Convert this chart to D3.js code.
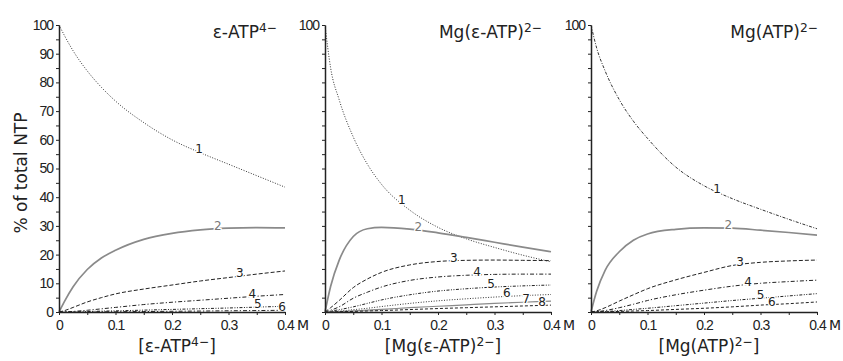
<!DOCTYPE html>
<html>
<head>
<meta charset="utf-8">
<script src="https://cdn.jsdelivr.net/npm/d3@7"></script>
<style>
  body { margin: 0; background: #fff; }
  svg { display: block; font-family: "DejaVu Sans", sans-serif; }
  .tick text { font-size: 14px; letter-spacing: -1px; fill: #222; }
  .tick line { stroke: #222; }
  .domain { stroke: #222; stroke-width: 1.5px; }
</style>
</head>
<body>
<svg id="chart" width="843" height="361"></svg>
<script>
'use strict';

// concentration grid (M) shared by every curve
var conc = [0, 0.01, 0.025, 0.05, 0.075, 0.1, 0.15, 0.2, 0.25, 0.3, 0.35, 0.4];

// % of total NTP, e-ATP4- panel
var eps1 = [100, 96.2, 91, 84, 78.3, 73.5, 66, 60, 55.5, 51.5, 47.5, 43.5];
var eps2 = [0, 3.8, 8.8, 14.8, 18.8, 21.5, 25.3, 27.4, 28.6, 29.2, 29.4, 29.3];
var eps3 = [0, 0.5, 1.6, 3.5, 5, 6.3, 8, 9.4, 10.8, 12, 13.2, 14.3];
var eps4 = [0, 0, 0.2, 0.6, 1.1, 1.6, 2.6, 3.4, 4.1, 4.8, 5.5, 6.1];
var eps5 = [0, 0, 0.05, 0.15, 0.3, 0.4, 0.65, 0.9, 1.15, 1.4, 1.7, 2];
var eps6 = [0, 0, 0, 0.03, 0.06, 0.1, 0.17, 0.25, 0.33, 0.42, 0.5, 0.6];

// Mg(e-ATP)2- panel
var mge1 = [100, 85, 74, 61, 51.5, 44.5, 35.5, 29.5, 25.5, 22.5, 19.8, 17.5];
var mge2 = [0, 9, 18, 26.3, 29, 29.5, 28.9, 27.6, 26, 24.3, 22.6, 21];
var mge3 = [0, 1.5, 4, 8.5, 11.5, 13.8, 16.4, 17.6, 18, 18.1, 18, 17.9];
var mge4 = [0, 0.6, 1.8, 4.8, 6.9, 8.7, 11, 12.2, 12.8, 13.1, 13.2, 13.2];
var mge5 = [0, 0.3, 0.8, 1.8, 3, 4.2, 6, 7.3, 8.1, 8.7, 9.1, 9.4];
var mge6 = [0, 0.1, 0.3, 0.8, 1.3, 1.9, 3, 3.9, 4.6, 5.2, 5.7, 6.1];
var mge7 = [0, 0.05, 0.15, 0.4, 0.65, 0.9, 1.5, 2, 2.5, 3, 3.4, 3.8];
var mge8 = [0, 0.03, 0.1, 0.2, 0.35, 0.5, 0.85, 1.2, 1.5, 1.8, 2.1, 2.4];

// Mg(ATP)2- panel
var mga1 = [100, 92, 84, 74, 66.5, 60.5, 50.5, 44, 39.5, 35.8, 32.3, 29];
var mga2 = [0, 7.2, 14.5, 21, 25, 27.2, 28.8, 29.3, 29.2, 28.5, 27.7, 26.8];
var mga3 = [0, 0.4, 1.5, 3.8, 6, 8.1, 11.2, 13.8, 16.2, 17.3, 17.8, 18.1];
var mga4 = [0, 0.1, 0.5, 1.5, 2.7, 4, 6, 7.6, 9, 10, 10.6, 11.1];
var mga5 = [0, 0.05, 0.15, 0.5, 0.9, 1.3, 2.2, 3.1, 4, 4.8, 5.6, 6.4];
var mga6 = [0, 0, 0.05, 0.2, 0.35, 0.5, 0.9, 1.3, 1.8, 2.4, 2.9, 3.5];

// axis ticks
var yTicks = d3.range(0, 101, 5);
var xTicks = [0, 0.05, 0.1, 0.15, 0.2, 0.25, 0.3, 0.35, 0.4];

// line styles, keyed by name
var styles = {
  dot:     { stroke: '#333', width: 1, dash: '1,1.6' },
  dashdot1:{ stroke: '#333', width: 1, dash: '3,1.5,1,1.5' },
  gray:    { stroke: '#8a8a8a', width: 1.7, dash: null },
  grayThin:{ stroke: '#8a8a8a', width: 1.2, dash: null },
  dash:    { stroke: '#222', width: 1, dash: '4,2' },
  dash2:   { stroke: '#222', width: 1, dash: '3,2' },
  dashdot: { stroke: '#222', width: 1, dash: '4,2,1.2,2' },
  dashdd:  { stroke: '#222', width: 1, dash: '3,1.5,1,1.5,1,1.5' }
};

var panels = [
  {
    head: ['ε-ATP', '4−'], headDx: -8,
    foot: ['[ε-ATP', '4−', ']'],
    series: [eps1, eps2, eps3, eps4, eps5, eps6],
    lstyle: ['dot', 'gray', 'dash', 'dashdot', 'dashdd', 'dashdot'],
    labelAt: [0.248, 0.281, 0.32, 0.342, 0.352, 0.395],
    yLabels: 'all'
  },
  {
    head: ['Mg(ε-ATP)', '2−'], headDx: -9,
    foot: ['[Mg(ε-ATP)', '2−', ']'],
    series: [mge1, mge2, mge3, mge4, mge5, mge6, mge7, mge8],
    lstyle: ['dot', 'gray', 'dash', 'dashdot', 'dashdd', 'dot', 'grayThin', 'dash2'],
    labelAt: [0.136, 0.165, 0.228, 0.269, 0.294, 0.322, 0.356, 0.384],
    yLabels: 'top'
  },
  {
    head: ['Mg(ATP)', '2−'], headDx: 1,
    foot: ['[Mg(ATP)', '2−', ']'],
    series: [mga1, mga2, mga3, mga4, mga5, mga6],
    lstyle: ['dashdot1', 'gray', 'dash', 'dashdot', 'dashdd', 'dash2'],
    labelAt: [0.223, 0.243, 0.264, 0.278, 0.3, 0.32],
    yLabels: 'top'
  }
];

var svg = d3.select('#chart');
var y = d3.scaleLinear().domain([0, 100]).range([312, 25]);

function superText(sel, parts) {
  sel.append('tspan').text(parts[0]);
  sel.append('tspan').attr('dy', '-0.45em').attr('font-size', '0.72em').text(parts[1]);
  if (parts[2]) sel.append('tspan').attr('dy', '0.32em').text(parts[2]);
}

panels.forEach(function (p, i) {
  var left = 59 + i * 266;
  var x = d3.scaleLinear().domain([0, 0.4]).range([left, left + 226]);
  var g = svg.append('g');

  var line = d3.line()
    .x(function (d, j) { return x(conc[j]); })
    .y(function (d) { return y(d); })
    .curve(d3.curveMonotoneX);

  // curves
  p.series.forEach(function (s, k) {
    var st = styles[p.lstyle[k]];
    g.append('path')
      .attr('d', line(s))
      .attr('fill', 'none')
      .attr('stroke', st.stroke)
      .attr('stroke-width', st.width)
      .attr('stroke-dasharray', st.dash);
  });

  // curve numbers
  p.series.forEach(function (s, k) {
    var xv = p.labelAt[k];
    var yv = d3.scaleLinear().domain(conc).range(s)(xv);
    g.append('text')
      .attr('x', x(xv))
      .attr('y', y(yv) + 1)
      .attr('text-anchor', 'middle')
      .attr('font-size', 12)
      .attr('fill', k === 1 ? '#777' : '#222')
      .attr('stroke', '#fff')
      .attr('stroke-width', 2.5)
      .attr('paint-order', 'stroke')
      .text(k + 1);
  });

  // y axis
  g.append('g')
    .attr('transform', 'translate(' + left + ',0)')
    .call(d3.axisLeft(y).tickValues(yTicks).tickSize(3).tickSizeOuter(0)
      .tickFormat(function (d) {
        if (p.yLabels === 'all') return d % 10 === 0 ? d : '';
        return d === 100 ? d : '';
      }));

  // x axis
  g.append('g')
    .attr('transform', 'translate(0,' + y(0) + ')')
    .call(d3.axisBottom(x).tickValues(xTicks).tickSize(3).tickSizeOuter(0).tickPadding(5)
      .tickFormat(function (d) {
        var t = Math.round(d * 100);
        if (t % 10 !== 0) return '';
        return t === 0 ? '0' : d3.format('.1f')(d);
      }));

  g.append('text')
    .attr('x', x(0.4) + 18).attr('y', 330)
    .attr('text-anchor', 'middle').attr('font-size', 14).attr('fill', '#222')
    .text('M');

  // panel header
  g.append('text')
    .attr('x', x(0.4) + p.headDx).attr('y', 38)
    .attr('text-anchor', 'end').attr('font-size', 17).attr('fill', '#222')
    .call(superText, p.head);

  // axis title
  g.append('text')
    .attr('x', x(0.2) + 5).attr('y', 352)
    .attr('text-anchor', 'middle').attr('font-size', 17).attr('fill', '#222')
    .call(superText, p.foot);
});

svg.append('text')
  .attr('transform', 'translate(27,173) rotate(-90)')
  .attr('text-anchor', 'middle').attr('font-size', 17).attr('fill', '#222')
  .text('% of total NTP');
</script>
</body>
</html>
